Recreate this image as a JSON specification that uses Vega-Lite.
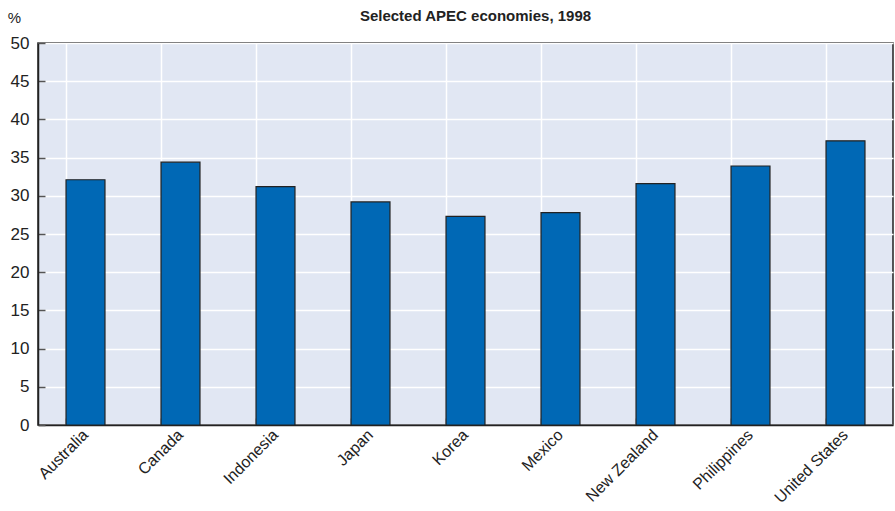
{
  "$schema": "https://vega.github.io/schema/vega-lite/v6.json",
  "width": 855,
  "height": 382,
  "padding": {"left": 38, "top": 43, "right": 2, "bottom": 86},
  "autosize": {"type": "none"},
  "title": {
    "text": "Selected APEC economies, 1998",
    "anchor": "middle",
    "font": "Liberation Sans Narrow, Liberation Sans, sans-serif",
    "fontSize": 15,
    "fontWeight": "bold",
    "color": "#222222",
    "offset": -14,
    "dx": 10
  },
  "config": {
    "view": {"fill": "#e1e7f3", "stroke": "#222222", "strokeWidth": 1.5},
    "font": "Liberation Sans Narrow, Liberation Sans, sans-serif"
  },
  "data": {
    "values": [
      {"country": "Australia", "value": 32.1},
      {"country": "Canada", "value": 34.4},
      {"country": "Indonesia", "value": 31.2},
      {"country": "Japan", "value": 29.2},
      {"country": "Korea", "value": 27.3},
      {"country": "Mexico", "value": 27.8},
      {"country": "New Zealand", "value": 31.6},
      {"country": "Philippines", "value": 33.9},
      {"country": "United States", "value": 37.2}
    ]
  },
  "mark": {"type": "bar", "fill": "#0068b5", "stroke": "#222222", "strokeWidth": 1.2},
  "encoding": {
    "x": {
      "field": "country",
      "type": "nominal",
      "sort": null,
      "scale": {"paddingInner": 0.59, "paddingOuter": 0.295},
      "axis": {
        "title": null,
        "labelAngle": -45,
        "labelAlign": "right",
        "labelBaseline": "middle",
        "labelFontSize": 16,
        "labelColor": "#222222",
        "labelPadding": 14,
        "bandPosition": 0,
        "tickSize": -7,
        "tickColor": "#555555",
        "tickWidth": 1.5,
        "domainColor": "#222222",
        "domainWidth": 1.5,
        "grid": true,
        "gridColor": "#ffffff",
        "gridWidth": 1.5
      }
    },
    "y": {
      "field": "value",
      "type": "quantitative",
      "scale": {"domain": [0, 50]},
      "axis": {
        "values": [0, 5, 10, 15, 20, 25, 30, 35, 40, 45, 50],
        "title": "%",
        "titleAngle": 0,
        "titleX": -24,
        "titleY": -26,
        "titleAlign": "center",
        "titleBaseline": "middle",
        "titleFontSize": 15,
        "titleFontWeight": "normal",
        "titleColor": "#222222",
        "labelFontSize": 17,
        "labelColor": "#222222",
        "labelPadding": 16,
        "tickSize": -7,
        "tickColor": "#555555",
        "tickWidth": 1.5,
        "domainColor": "#222222",
        "domainWidth": 1.5,
        "grid": true,
        "gridColor": "#ffffff",
        "gridWidth": 1.5
      }
    }
  }
}
